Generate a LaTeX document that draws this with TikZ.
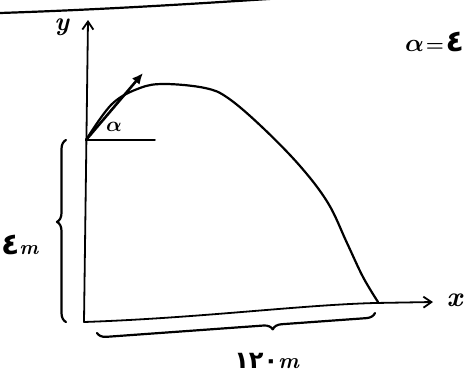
\documentclass[tikz,border=0pt]{standalone}
\usepackage{amsmath}
\usepackage{fontspec}
\newfontfamily\arabicfont{DejaVu Sans}
\usetikzlibrary{arrows.meta,decorations.pathreplacing}
\tikzset{
  ink/.style={line width=2.2pt, line cap=round, line join=round, black},
  axisline/.style={line width=1.8pt, line cap=round, line join=round, black, -{Straight Barb[length=8pt,width=11pt]}},
  bracestyle/.style={ink, decorate, decoration={brace, amplitude=9pt}},
  lbl/.style={inner sep=0pt, text=black},
}
\newcommand{\bit}[1]{\textbf{\textit{#1}}}
\begin{document}
\begin{tikzpicture}[x=1pt,y=-1pt]
\useasboundingbox (0,0) rectangle (469,383);
\clip (0,0) rectangle (469,383);
\fill[white] (0,0) rectangle (469,383);
% top edge line
\coordinate (t1) at (0,13);
\coordinate (t2) at (300,-3);
\draw[ink] (t1) .. controls (120,9) and (220,2) .. (t2);
% axes
\coordinate (O) at (84,322);
\coordinate (Yt) at (88,20);
\coordinate (Xb) at (375,303);
\coordinate (Xt) at (433,302);
\draw[axisline] (O) -- (Yt);
\draw[axisline] (O) .. controls (200,318) and (300,305) .. (Xb) -- (Xt);
\node[lbl, font=\fontsize{26}{30}\selectfont] (ylab) at (62,27) {\bit{y}};
\node[lbl, font=\fontsize{28}{30}\selectfont] (xlab) at (455,300) {\bit{x}};
% start point and trajectory
\coordinate (S) at (86,140);
\draw[ink] plot[smooth, tension=0.6] coordinates {(86,140) (112,104) (140,88) (165,84) (205,88) (228,98) (262,127) (300,166) (328,203) (347,243) (363,277) (378,302)};
% velocity arrow
\coordinate (V) at (143,73);
\draw[ink, line width=2.6pt, -{Latex[length=11pt,width=10pt]}] (S) -- (V);
% horizontal reference
\coordinate (H) at (155,140);
\draw[ink, line width=1.5pt] (S) -- (H);
\node[lbl, font=\fontsize{20}{22}\selectfont] (alab) at (114,127) {$\boldsymbol{\alpha}$};
% left brace
\coordinate (B1) at (66,322);
\coordinate (B2) at (66,140);
\draw[bracestyle, decoration={aspect=0.55}] (B1) -- (B2);
\node[lbl] (hlab) at (20,245) {{\fontsize{30}{34}\selectfont\arabicfont\bfseries ٤}{\fontsize{20}{22}\selectfont\bit{m}}};
% bottom brace
\coordinate (C1) at (375,313);
\coordinate (C2) at (97,333);
\draw[bracestyle, decoration={aspect=0.37}] (C1) -- (C2);
\node[lbl] (rlab) at (267,361) {{\fontsize{24}{28}\selectfont\arabicfont\bfseries ١٢٠}{\fontsize{22}{24}\selectfont\bit{m}}};
% alpha value
\node[lbl, anchor=west] (aval) at (405,42) {{\fontsize{34}{38}\selectfont$\boldsymbol{\alpha}$}\,{\fontsize{20}{22}\selectfont$\boldsymbol{=}$}\,{\fontsize{30}{34}\selectfont\arabicfont\bfseries ٤}};
\end{tikzpicture}
\end{document}
